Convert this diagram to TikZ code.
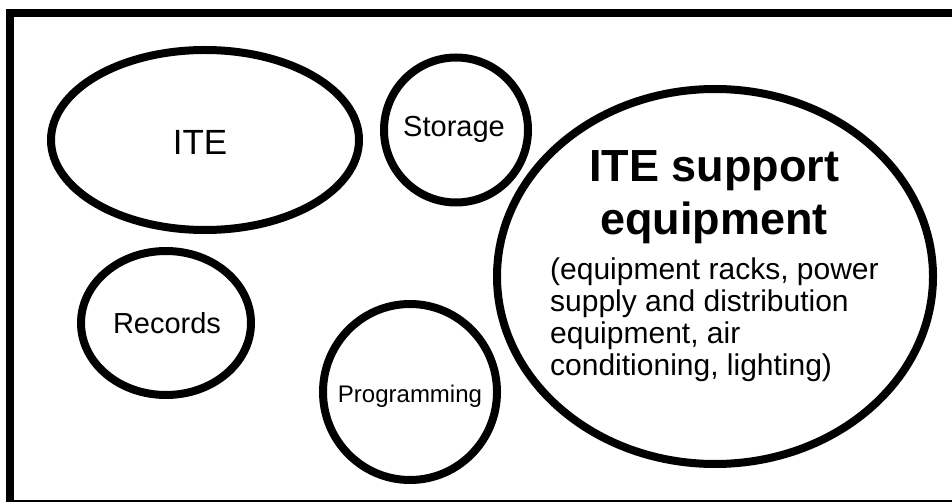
\documentclass[tikz,border=0pt]{standalone}
\usepackage{fontspec}
\setmainfont{Liberation Sans}
\usetikzlibrary{shapes}
\tikzstyle{blob} = [ellipse, draw, line width=8pt, inner sep=0pt]
\tikzstyle{blobtext} = [anchor=base, inner sep=0pt]
\newcommand{\fsz}[2]{\fontsize{#1}{#2}\selectfont}

\begin{document}
\begin{tikzpicture}[x=1pt, y=-1pt]
	  \useasboundingbox (0,0) rectangle (952,502);
	  \clip (0,0) rectangle (952,502);
	  % Frame
	  \draw [line width=8pt] (10,13) rectangle (970,504);
	  % Nodes
	  \node [blob, minimum width=308pt, minimum height=180pt] (ite) at (205,140) {};
	  \node [blob, minimum width=144pt, minimum height=145pt] (storage) at (456,130) {};
	  \node [blob, minimum width=170pt, minimum height=144pt] (records) at (166,323) {};
	  \node [blob, minimum width=174pt, minimum height=176pt] (prog) at (410,392) {};
	  \node [blob, minimum width=436pt, minimum height=375pt] (support) at (715,276.5) {};
	  % Labels
	  \node [blobtext, font=\fsz{35}{42}] (iteText) at (200,155) {ITE};
	  \node [blobtext, font=\fsz{29}{34}] (storageText) at (454,137) {Storage};
	  \node [blobtext, font=\fsz{29}{34}] (recordsText) at (167,333) {Records};
	  \node [blobtext, font=\fsz{24}{29}] (progText) at (410,402) {Programming};
	  \node [blobtext, font=\bfseries\fsz{45}{53}, align=center] (supportTitle) at (714,235)
	      {ITE support\\equipment};
	  \node [anchor=base west, inner sep=0pt, font=\fsz{30}{32}, align=left] (supportList) at (550,375)
	      {(equipment racks, power\\supply and distribution\\equipment, air\\conditioning, lighting)};
\end{tikzpicture}
\end{document}
